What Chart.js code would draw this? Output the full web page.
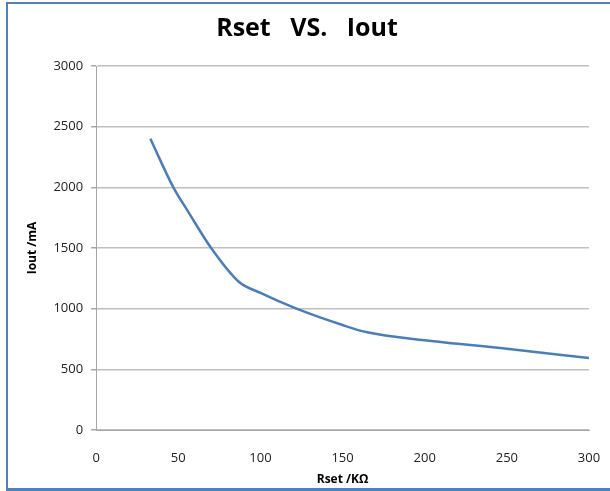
<!DOCTYPE html>
<html>
<head>
<meta charset="utf-8">
<script src="https://cdn.jsdelivr.net/npm/chart.js@4"></script>
<style>
    html, body { margin: 0; padding: 0; background: #fff; }
    #wrap { position: relative; width: 610px; height: 491px; overflow: hidden; }
    #frame {
        position: absolute; left: 6px; top: 2px; width: 620px; height: 484px;
        border-left: 2px solid #4f81bd; border-top: 2px solid #4f81bd; border-bottom: 3px solid #4f81bd;
    }
    canvas { position: absolute; left: 0; top: 0; }
</style>
</head>
<body>
<div id="wrap">
    <div id="frame"></div>
    <canvas id="rsetChart" width="610" height="491"></canvas>
</div>
<script>
    // Rset (kOhm) vs output current (mA)
    const rset = [33, 47, 56, 70, 87, 100, 122, 150, 165, 200, 250, 300];
    const iout = [2400, 2000, 1800, 1500, 1220, 1130, 1000, 865, 805, 740, 670, 593];
    const xTicks = [0, 50, 100, 150, 200, 250, 300];
    const yTicks = [0, 500, 1000, 1500, 2000, 2500, 3000];

    const font = 'Open Sans';

    document.addEventListener('DOMContentLoaded', () => {
        const points = rset.map((r, i) => ({ x: r, y: iout[i] }));

        new Chart(document.getElementById('rsetChart'), {
            type: 'line',
            data: {
                datasets: [{
                    label: 'Iout',
                    data: points,
                    borderColor: '#4a7ebb',
                    borderWidth: 2.5,
                    pointRadius: 0,
                    fill: false,
                    cubicInterpolationMode: 'monotone'
                }]
            },
            options: {
                responsive: false,
                animation: false,
                layout: { padding: { left: 25, right: 21, top: 8, bottom: 2 } },
                plugins: {
                    legend: { display: false },
                    tooltip: { enabled: false },
                    title: {
                        display: true,
                        text: 'Rset   VS.   Iout',
                        color: '#000',
                        font: { family: font, size: 25, weight: 'bold' },
                        padding: { top: 6, bottom: 22 }
                    }
                },
                scales: {
                    x: {
                        type: 'linear',
                        min: xTicks[0],
                        max: xTicks[xTicks.length - 1],
                        afterBuildTicks: (axis) => { axis.ticks = xTicks.map(v => ({ value: v })); },
                        afterFit: (axis) => {
                            axis.height = 59;
                            axis.paddingRight = 0;
                            axis.paddingLeft = 0;
                        },
                        grid: { display: false, drawTicks: false },
                        border: { color: '#a6a6a6', width: 1 },
                        ticks: {
                            color: '#222',
                            padding: 20,
                            font: { family: font, size: 13 },
                            callback: (v) => String(v)
                        },
                        title: {
                            display: true,
                            text: 'Rset /KΩ',
                            color: '#000',
                            font: { family: font, size: 12, weight: 'bold' },
                            padding: { top: 0, bottom: 2 }
                        }
                    },
                    y: {
                        min: yTicks[0],
                        max: yTicks[yTicks.length - 1],
                        afterBuildTicks: (axis) => { axis.ticks = yTicks.map(v => ({ value: v })); },
                        grid: { color: '#bfbfbf', lineWidth: 1.5, tickLength: 5, tickColor: '#a6a6a6' },
                        border: { color: '#a6a6a6', width: 1 },
                        ticks: {
                            color: '#222',
                            padding: 8,
                            font: { family: font, size: 13 },
                            callback: (v) => String(v)
                        },
                        title: {
                            display: true,
                            text: 'Iout /mA',
                            color: '#000',
                            font: { family: font, size: 12, weight: 'bold' },
                            padding: { top: 0, bottom: 6 }
                        }
                    }
                }
            }
        });
    });
</script>
</body>
</html>
